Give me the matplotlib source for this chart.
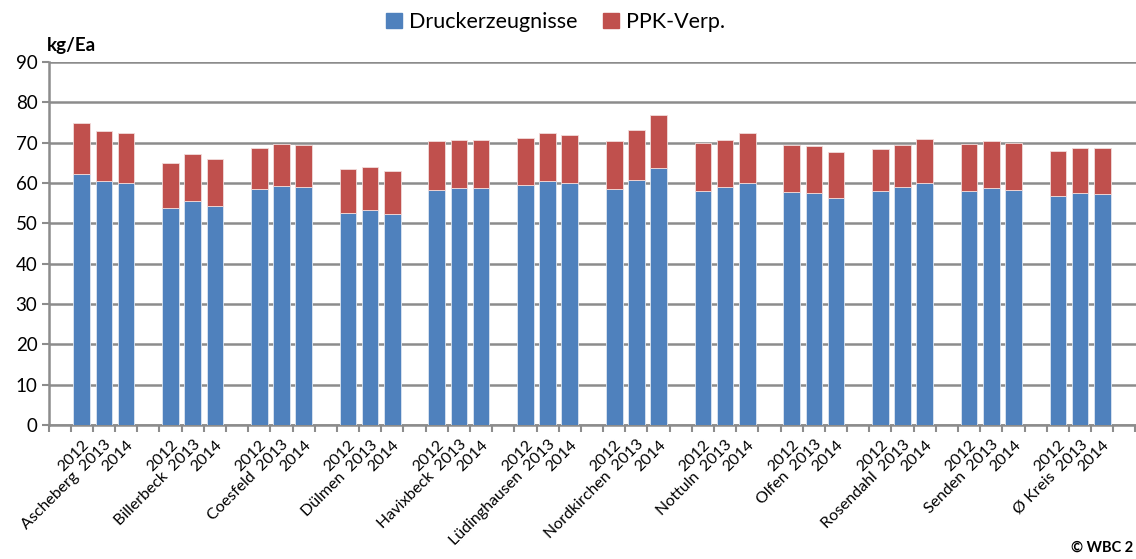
import numpy as np
import matplotlib.pyplot as plt
from matplotlib.patches import Patch

plt.rcParams['font.family'] = ['Lato', 'DejaVu Sans']

orte = ['Ascheberg', 'Billerbeck', 'Coesfeld', 'Dülmen', 'Havixbeck', 'Lüdinghausen',
        'Nordkirchen', 'Nottuln', 'Olfen', 'Rosendahl', 'Senden', 'Ø Kreis']
jahre = ['2012', '2013', '2014']

# Druckerzeugnisse (kg/Ea), je Ort 2012, 2013, 2014
druck = [62.2, 60.6, 60.0,
         53.7, 55.5, 54.4,
         58.4, 59.2, 59.0,
         52.6, 53.2, 52.2,
         58.3, 58.7, 58.7,
         59.5, 60.6, 60.1,
         58.5, 60.7, 63.7,
         58.1, 58.9, 60.1,
         57.7, 57.4, 56.2,
         58.1, 59.0, 60.0,
         58.0, 58.7, 58.3,
         56.9, 57.4, 57.2]
# Summe Druckerzeugnisse + PPK-Verp.
gesamt = [74.8, 72.8, 72.3,
          65.0, 67.3, 65.9,
          68.6, 69.7, 69.3,
          63.4, 64.0, 62.9,
          70.3, 70.7, 70.7,
          71.2, 72.5, 71.9,
          70.4, 73.1, 76.9,
          69.8, 70.7, 72.3,
          69.5, 69.2, 67.7,
          68.4, 69.3, 70.9,
          69.6, 70.5, 70.0,
          68.0, 68.8, 68.6]
ppk = [g - d for g, d in zip(gesamt, druck)]

blau = '#4F81BD'
rot = '#C0504D'
grau = '#8C8C8C'

# positions: each group takes 4 slots (3 bars + gap), one empty slot at start
x = []
labels = []
for i, ort in enumerate(orte):
    for j, jahr in enumerate(jahre):
        x.append(1 + 4 * i + j + 0.5)
        labels.append(ort + '  ' + jahr if j == 1 else jahr)
x = np.array(x)

fig = plt.figure(figsize=(11.36, 5.59), dpi=100)
ax = fig.add_axes([48.5 / 1136, 134 / 559, 1087 / 1136, 363 / 559])

ax.bar(x, druck, width=0.75, color=blau, edgecolor='#DCE6F2', linewidth=0.6, zorder=3)
ax.bar(x, ppk, bottom=druck, width=0.75, color=rot, edgecolor='#F2DCDB', linewidth=0.6, zorder=3)

ax.set_xlim(0, 49)
ax.set_ylim(0, 90)
ax.set_yticks(range(0, 91, 10))
ax.yaxis.grid(True, color=grau, linewidth=1.8, zorder=0)
ax.tick_params(axis='y', labelsize=13.5, length=5, color=grau, width=1.5, pad=3)

ax.set_xticks(x)
ax.set_xticklabels(labels, rotation=45, ha='right', rotation_mode='anchor', fontsize=11.5)
ax.tick_params(axis='x', which='major', length=0, pad=9)
ax.set_xticks(np.arange(0, 50), minor=True)
ax.tick_params(axis='x', which='minor', length=5, color=grau, width=1.5)

for s in ['top', 'right']:
    ax.spines[s].set_visible(False)
for s in ['left', 'bottom']:
    ax.spines[s].set_color(grau)
    ax.spines[s].set_linewidth(1.8)

fig.text(47 / 1136, 1 - 45 / 559, 'kg/Ea', fontsize=13.5, fontweight='bold', va='center', ha='left')
fig.text(1133 / 1136, 1 - 548 / 559, '© WBC 2', fontsize=10.5, fontweight='bold', va='center', ha='right')

handles = [Patch(color=blau), Patch(color=rot)]
fig.legend(handles, ['Druckerzeugnisse', 'PPK-Verp.'], loc='center', bbox_to_anchor=(0.489, 1 - 22 / 559),
           ncol=2, frameon=False, fontsize=15.5, handlelength=0.75, handleheight=0.75,
           handletextpad=0.3, columnspacing=1.2)

fig.savefig('out.png', dpi=100)
